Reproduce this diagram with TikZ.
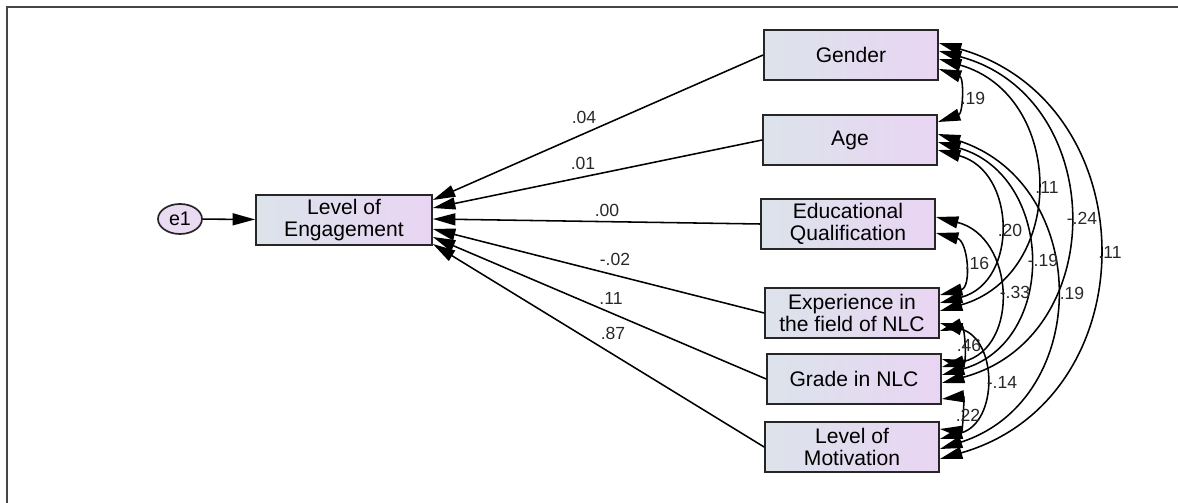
\documentclass[tikz,border=0pt]{standalone}
\usepackage{fontspec}
\setmainfont{Liberation Sans}
\usetikzlibrary{arrows.meta,calc,shapes.geometric}
\definecolor{boxL}{RGB}{220,227,235}
\definecolor{boxR}{RGB}{233,213,243}
\definecolor{ellF}{RGB}{234,219,243}
\definecolor{numC}{RGB}{40,40,40}
\definecolor{frameC}{RGB}{70,70,70}
\tikzset{
 var/.style={draw=black!85, line width=1.2pt, left color=boxL, right color=boxR,
   minimum width=4.35cm, minimum height=1.25cm, inner sep=0pt, align=center,
   font=\fontsize{15}{15.5}\selectfont},
 err/.style={ellipse, draw=black!85, line width=1.2pt, fill=ellF, minimum width=1.1cm,
   minimum height=0.75cm, inner sep=0pt, font=\fontsize{14}{15}\selectfont},
 tipA/.tip={Triangle[length=16pt,width=8.5pt]},
 reg/.style={-tipA, line width=1.1pt},
 cov/.style={tipA-tipA, line width=1.1pt, out=-15, in=15, looseness=1.34},
 num/.style={font=\fontsize{12.5}{14}\selectfont, text=numC, inner sep=1pt},
}
\begin{document}
\begin{tikzpicture}[x=0.025cm, y=-0.025cm]
\useasboundingbox (0,0) rectangle (1178,503);
\draw[frameC, line width=1pt] (7,503) -- (7,7) -- (1178,7);

% nodes
\node[err] (e1) at (180,219) {e1};
\node[var, minimum width=4.4cm] (eng) at (344,220) {Level of\\Engagement};
\node[var] (gen) at (851,55) {Gender};
\node[var] (age) at (850,140) {Age};
\node[var] (edu) at (848,224) {Educational\\Qualification};
\node[var] (exp) at (852,313) {Experience in\\the field of NLC};
\node[var] (gra) at (854,379) {Grade in NLC};
\node[var] (mot) at (852,447) {Level of\\Motivation};

% error
\draw[reg] (e1) -- (eng);

% regressions
\draw[reg] (gen.west) -- ($(eng.east)+(0,-20)$);
\draw[reg] (age.west) -- ($(eng.east)+(0,-12)$);
\draw[reg] (edu.west) -- ($(eng.east)+(0,-1)$);
\draw[reg] (exp.west) -- ($(eng.east)+(0,9)$);
\draw[reg] (gra.west) -- ($(eng.east)+(0,17)$);
\draw[reg] (mot.west) -- ($(eng.east)+(0,24)$);

\node[num] (r1) at (584,117) {.04};
\node[num] (r2) at (583,163) {.01};
\node[num] (r3) at (607,210) {.00};
\node[num] (r4) at (615,259) {-.02};
\node[num] (r5) at (611,298) {.11};
\node[num] (r6) at (613,333) {.87};

% covariances
\draw[cov, out=-19, in=19, looseness=1.29] ($(gen.east)+(0,14)$) to ($(age.east)+(0,-18)$);
\draw[cov, out=-16, in=16] ($(gen.east)+(0,4)$) to ($(exp.east)+(0,-2)$);
\draw[cov, out=-15, in=15, looseness=1.35] ($(gen.east)+(0,-4)$) to ($(gra.east)+(0,4)$);
\draw[cov, out=-16, in=16] ($(gen.east)+(0,-12)$) to ($(mot.east)+(0,12)$);
\draw[cov, looseness=1.36] ($(age.east)+(0,10)$) to ($(exp.east)+(0,-10)$);
\draw[cov, out=-16, in=16, looseness=1.33] ($(age.east)+(0,2)$) to ($(gra.east)+(0,-4)$);
\draw[cov, out=-18, in=18, looseness=1.31] ($(age.east)+(0,-6)$) to ($(mot.east)+(0,2)$);
\draw[cov, out=-14, in=14, looseness=1.36] ($(edu.east)+(0,9)$) to ($(exp.east)+(0,-18)$);
\draw[cov, out=-14, in=14, looseness=1.38] ($(edu.east)+(0,-7)$) to ($(gra.east)+(0,-12)$);
\draw[cov, out=17, in=-17, looseness=2.42] ($(exp.east)+(0,18)$) to ($(gra.east)+(0,-20)$);
\draw[cov, out=-16, in=16, looseness=1.34] ($(exp.east)+(0,10)$) to ($(mot.east)+(0,-8)$);
\draw[cov, out=7, in=-7, looseness=1.94] ($(gra.east)+(0,20)$) to ($(mot.east)+(0,-18)$);

\node[num] (c1) at (973,98) {.19};
\node[num] (c2) at (1047,187) {.11};
\node[num] (c3) at (1082,218) {-.24};
\node[num] (c4) at (1110,252) {.11};
\node[num] (c5) at (1010,230) {.20};
\node[num] (c6) at (1043,260) {-.19};
\node[num] (c7) at (1072,293) {.19};
\node[num] (c8) at (977,263) {.16};
\node[num] (c9) at (1015,292) {-.33};
\node[num] (c10) at (969,345) {.46};
\node[num] (c11) at (1002,382) {-.14};
\node[num] (c12) at (968,415) {.22};
\end{tikzpicture}
\end{document}
